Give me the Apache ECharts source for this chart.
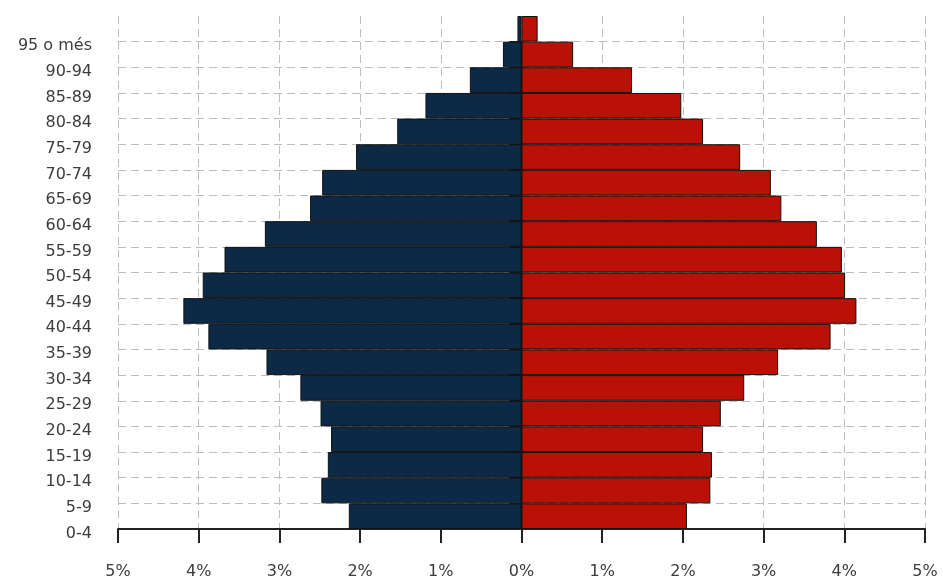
<!DOCTYPE html>
<html>
<head>
<meta charset="utf-8">
<script src="https://cdn.jsdelivr.net/npm/echarts@6/dist/echarts.min.js"></script>
<style>
html,body{margin:0;padding:0;background:#fff;}
#chart{width:943px;height:581px;}
</style>
</head>
<body>
<div id="chart"></div>
<script>
// Age groups, bottom to top
const ageGroups = ['0-4','5-9','10-14','15-19','20-24','25-29','30-34','35-39','40-44','45-49',
  '50-54','55-59','60-64','65-69','70-74','75-79','80-84','85-89','90-94','95 o més'];
// Share of total population (%), men (left) and women (right)
const menPct   = [2.14, 2.48, 2.40, 2.36, 2.49, 2.74, 3.16, 3.88, 4.19, 3.95,
  3.68, 3.18, 2.62, 2.47, 2.05, 1.54, 1.19, 0.64, 0.23, 0.05];
const womenPct = [2.05, 2.34, 2.36, 2.25, 2.47, 2.76, 3.18, 3.83, 4.15, 4.01,
  3.97, 3.66, 3.22, 3.09, 2.71, 2.25, 1.98, 1.37, 0.64, 0.20];
const xTicks = [-5, 5, 1]; // min, max, interval

const chart = echarts.init(document.getElementById('chart'), null, {renderer: 'canvas'});
const font = 'DejaVu Sans';
const labelColor = '#3c3c3c';
const gridColor = '#bdbdbd';

chart.setOption({
  animation: false,
  backgroundColor: '#ffffff',
  grid: [
    {left: 118, right: 18, top: 16, bottom: 52},
    {left: 118, right: 18, top: 41.65, bottom: 52}
  ],
  xAxis: [
    {
      type: 'value', gridIndex: 0, min: xTicks[0], max: xTicks[1], interval: xTicks[2],
      axisLine: {show: true, onZero: false, lineStyle: {color: '#222', width: 2}},
      axisTick: {show: true, inside: false, length: 14, lineStyle: {color: '#222', width: 2}},
      axisLabel: {margin: 35, color: labelColor, fontFamily: font, fontSize: 16,
        formatter: v => Math.abs(v) + '%'},
      splitLine: {show: true, lineStyle: {color: gridColor, type: [8, 5], width: 1}}
    },
    {
      type: 'value', gridIndex: 1, min: xTicks[0], max: xTicks[1], interval: xTicks[2], show: false
    }
  ],
  yAxis: [
    {
      type: 'category', gridIndex: 0, data: ageGroups, show: false
    },
    {
      type: 'category', gridIndex: 1, data: ageGroups, boundaryGap: false,
      axisLine: {show: true, lineStyle: {color: '#222', width: 2}},
      axisTick: {show: true, inside: false, length: 12, alignWithLabel: true, lineStyle: {color: '#222', width: 2}},
      axisLabel: {margin: 26, color: labelColor, fontFamily: font, fontSize: 16,
        verticalAlign: 'top', lineHeight: 9},
      splitLine: {show: true, lineStyle: {
        color: ageGroups.map((_, i) => i === 0 ? 'rgba(0,0,0,0)' : gridColor),
        type: [8, 5], width: 1}}
    }
  ],
  series: [
    {
      name: 'Homes', type: 'bar', xAxisIndex: 0, yAxisIndex: 0, stack: 'p',
      barCategoryGap: '0%',
      data: menPct.map(v => -v),
      itemStyle: {color: '#0c2a46', borderColor: '#111', borderWidth: 1}
    },
    {
      name: 'Dones', type: 'bar', xAxisIndex: 0, yAxisIndex: 0, stack: 'p',
      barCategoryGap: '0%',
      data: womenPct,
      itemStyle: {color: '#b91106', borderColor: '#111', borderWidth: 1}
    }
  ]
});
</script>
</body>
</html>
